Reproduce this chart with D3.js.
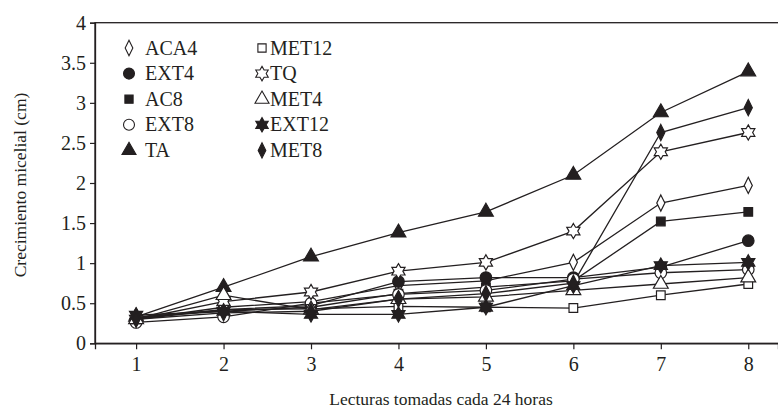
<!DOCTYPE html>
<html><head><meta charset="utf-8">
<script src="https://cdn.jsdelivr.net/npm/d3@7"></script>
<style>
body{margin:0;background:#fff;}
svg text{font-family:"Liberation Serif","Times New Roman","DejaVu Serif",serif !important;fill:#231f20;}
</style></head>
<body><svg id="c" width="778" height="413"></svg>
<script>
const xTicks = [1,2,3,4,5,6,7,8];
const yTicks = [0,0.5,1,1.5,2,2.5,3,3.5,4];
const seriesNames = ["ACA4","EXT4","AC8","EXT8","TA","MET12","TQ","MET4","EXT12","MET8"];
const ACA4  = [0.30,0.45,0.52,0.72,0.78,1.01,1.75,1.97];
const EXT4  = [0.32,0.42,0.47,0.77,0.82,0.82,0.95,1.28];
const AC8   = [0.33,0.40,0.45,0.62,0.70,0.78,1.52,1.64];
const EXT8  = [0.26,0.33,0.50,0.61,0.66,0.80,0.88,0.92];
const TA    = [0.33,0.70,1.08,1.38,1.64,2.10,2.88,3.39];
const MET12 = [0.30,0.42,0.43,0.46,0.45,0.44,0.60,0.74];
const TQ    = [0.30,0.52,0.64,0.90,1.01,1.40,2.39,2.63];
const MET4  = [0.30,0.60,0.42,0.55,0.58,0.66,0.74,0.82];
const EXT12 = [0.35,0.40,0.36,0.36,0.45,0.72,0.97,1.01];
const MET8  = [0.30,0.38,0.40,0.55,0.62,0.75,2.63,2.94];

const values = {ACA4,EXT4,AC8,EXT8,TA,MET12,TQ,MET4,EXT12,MET8};
const FONT = '"Liberation Serif","Times New Roman","DejaVu Serif",serif';

const star6 = {draw(ctx,size){const R=Math.sqrt(size)*0.62, r=R*0.58;
  for(let i=0;i<12;i++){const a=-Math.PI/2+i*Math.PI/6; const rr=i%2?r:R;
    const px=rr*Math.cos(a), py=rr*Math.sin(a); if(i===0)ctx.moveTo(px,py); else ctx.lineTo(px,py);} ctx.closePath();}};
const diamondTall = {draw(ctx,size){const h=Math.sqrt(size)*0.62, w=h*0.5;
  ctx.moveTo(0,-h);ctx.lineTo(w,0);ctx.lineTo(0,h);ctx.lineTo(-w,0);ctx.closePath();}};

const style = {
  ACA4:{sym:diamondTall,size:170,fill:"#fff"},
  EXT4:{sym:d3.symbolCircle,size:105,fill:"#231f20"},
  AC8:{sym:d3.symbolSquare,size:75,fill:"#231f20"},
  EXT8:{sym:d3.symbolCircle,size:105,fill:"#fff"},
  TA:{sym:d3.symbolTriangle,size:95,fill:"#231f20"},
  MET12:{sym:d3.symbolSquare,size:75,fill:"#fff"},
  TQ:{sym:star6,size:150,fill:"#fff"},
  MET4:{sym:d3.symbolTriangle,size:95,fill:"#fff"},
  EXT12:{sym:star6,size:150,fill:"#231f20"},
  MET8:{sym:diamondTall,size:170,fill:"#231f20"}
};

const svg = d3.select("#c");
const x = d3.scaleLinear().domain([0.53,8.34]).range([95,778]);
const y = d3.scaleLinear().domain([0,4]).range([343.3,22.7]);
const ink="#231f20";

svg.append("rect").attr("x",95).attr("y",22.7).attr("width",690).attr("height",320.6)
  .attr("fill","none").attr("stroke",ink).attr("stroke-width",1.3);

const gx = svg.append("g").attr("transform","translate(0,343.3)")
  .call(d3.axisBottom(x).tickValues(xTicks).tickSize(6).tickPadding(8).tickFormat(d3.format("d")));
const gy = svg.append("g").attr("transform","translate(95,0)")
  .call(d3.axisLeft(y).tickValues(yTicks).tickSize(5).tickPadding(4).tickFormat(d=>String(d)));
[gx,gy].forEach(g=>{g.attr("font-family",FONT);
  g.select(".domain").attr("stroke",ink).attr("stroke-width",1.3);
  g.selectAll(".tick line").attr("stroke",ink).attr("stroke-width",1.2);
  g.selectAll("text").attr("font-size",20).style("font-family",FONT).attr("fill",ink);});

svg.append("text").attr("x",441).attr("y",405).attr("text-anchor","middle").attr("font-size",17.5)
  .style("font-family",FONT).text("Lecturas tomadas cada 24 horas");
svg.append("text").attr("transform","translate(26,185) rotate(-90)").attr("text-anchor","middle").attr("font-size",17.5)
  .style("font-family",FONT).text("Crecimiento micelial (cm)");

const line = d3.line().x((d,i)=>x(xTicks[i])).y(d=>y(d));
seriesNames.forEach(n=>{
  svg.append("path").datum(values[n]).attr("d",line).attr("fill","none").attr("stroke",ink).attr("stroke-width",1.3);
});
seriesNames.forEach(n=>{
  const s=style[n];
  svg.append("g").selectAll("path").data(values[n]).join("path")
    .attr("transform",(d,i)=>`translate(${x(xTicks[i])},${y(d)})`)
    .attr("d",d3.symbol().type(s.sym).size(s.size))
    .attr("fill",s.fill).attr("stroke",ink).attr("stroke-width",1.2);
});

const leg = svg.append("g");
seriesNames.forEach((n,i)=>{
  const col=Math.floor(i/5), row=i%5;
  const sx = col===0?129:262, tx = col===0?145:270, yy = 48+row*25.6;
  const s=style[n];
  leg.append("path").attr("transform",`translate(${sx},${yy})`)
    .attr("d",d3.symbol().type(s.sym).size(s.size*0.9)).attr("fill",s.fill).attr("stroke",ink).attr("stroke-width",1.1);
  leg.append("text").attr("x",tx).attr("y",yy+6.5).attr("font-size",20).style("font-family",FONT).text(n);
});
</script></body></html>
